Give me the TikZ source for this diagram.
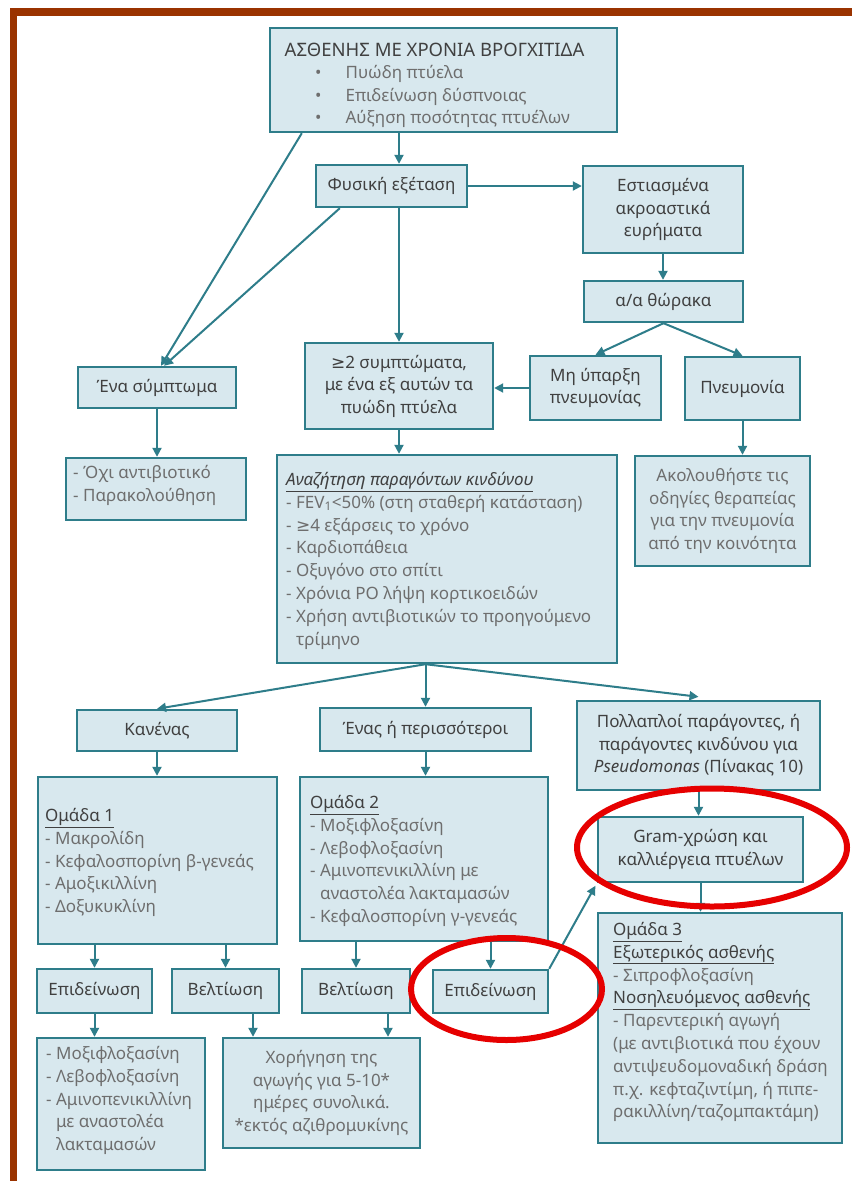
\documentclass[tikz,border=0pt]{standalone}
\usepackage{fontspec}
\setmainfont{Noto Sans}
\newfontfamily\symfont{DejaVu Sans}
\usetikzlibrary{arrows.meta,calc}
\definecolor{framebrown}{HTML}{9A3300}
\definecolor{boxfill}{HTML}{D8E8EE}
\definecolor{boxline}{HTML}{2E7D8A}
\definecolor{headtext}{HTML}{404040}
\definecolor{listtext}{HTML}{6E6E6E}
\definecolor{ringred}{HTML}{E60000}
\newcommand{\hd}[1]{\textcolor{headtext}{\underline{#1}}}
\newcommand{\gesym}{{\symfont ≥}}
\begin{document}
\begin{tikzpicture}[x=1pt,y=-1pt,
  box/.style={draw=boxline, fill=boxfill, line width=2.4pt, inner sep=0pt,
    align=center, text=headtext, font=\fontsize{17}{22.5}\selectfont},
  txt/.style={inner sep=0pt, align=left, text=listtext,
    font=\fontsize{17}{22.8}\selectfont, anchor=north west},
  arr/.style={draw=boxline, line width=2pt, -{Triangle[length=9pt,width=9pt]}},
  ring/.style={draw=ringred, line width=6pt}]
\useasboundingbox (0,0) rectangle (852,1181);
\fill[white] (0,0) rectangle (852,1181);
% page frame
\fill[framebrown] (10,8) rectangle (852,16);
\fill[framebrown] (10,8) rectangle (17,1181);

% patient box
\node[box, minimum width=347pt, minimum height=104pt] (top) at (443.5,80) {};
\node[txt, text=headtext, anchor=center, font=\fontsize{18.5}{22}\selectfont] (toptitle) at (434.5,50) {ΑΣΘΕΝΗΣ ΜΕ ΧΡΟΝΙΑ ΒΡΟΓΧΙΤΙΔΑ};
\node[txt] (topitems) at (315,65) {•\hspace{24pt}Πυώδη πτύελα\\•\hspace{24pt}Επιδείνωση δύσπνοιας\\•\hspace{24pt}Αύξηση ποσότητας πτυέλων};

% examination branch
\node[box, minimum width=151pt, minimum height=42pt] (fe) at (391.5,186) {Φυσική εξέταση};
\node[box, minimum width=160pt, minimum height=87pt] (foc) at (663,209.5) {Εστιασμένα\\ακροαστικά\\ευρήματα};
\node[box, minimum width=159pt, minimum height=41pt] (aa) at (663.5,301.5) {α/α θώρακα};
\node[box, minimum width=131pt, minimum height=64pt] (nop) at (595.5,388) {Μη ύπαρξη\\πνευμονίας};
\node[box, minimum width=115pt, minimum height=63pt] (pn) at (742.5,388.5) {Πνευμονία};
\node[box, minimum width=188pt, minimum height=86pt] (two) at (399,386) {\gesym2 συμπτώματα,\\με ένα εξ αυτών τα\\πυώδη πτύελα};
\node[box, minimum width=158pt, minimum height=41pt] (one) at (157,387.5) {Ένα σύμπτωμα};

\node[box, minimum width=180pt, minimum height=62pt] (no) at (156,489) {};
\node[txt] (not) at (73,465) {- Όχι αντιβιοτικό\\- Παρακολούθηση};

\node[box, minimum width=340pt, minimum height=208pt] (risk) at (447,559) {};
\node[txt] (riskt) at (286,472) {\hd{\itshape Αναζήτηση παραγόντων κινδύνου}\\
- FEV\textsubscript{1}<50\% (στη σταθερή κατάσταση)\\
- \gesym4 εξάρσεις το χρόνο\\
- Καρδιοπάθεια\\
- Οξυγόνο στο σπίτι\\
- Χρόνια PO λήψη κορτικοειδών\\
- Χρήση αντιβιοτικών το προηγούμενο\\
\phantom{- }τρίμηνο};

\node[box, text=listtext, minimum width=175pt, minimum height=110pt] (fol) at (722.5,511) {Ακολουθήστε τις\\οδηγίες θεραπείας\\για την πνευμονία\\από την κοινότητα};

% risk groups
\node[box, minimum width=160pt, minimum height=41pt] (none) at (157,730.5) {Κανένας};
\node[box, minimum width=211pt, minimum height=43pt] (some) at (425.5,729.5) {Ένας ή περισσότεροι};
\node[box, minimum width=243pt, minimum height=89pt] (many) at (698.5,745.5) {Πολλαπλοί παράγοντες, ή\\παράγοντες κινδύνου για\\\textit{Pseudomonas} (Πίνακας 10)};

\node[box, minimum width=239pt, minimum height=167pt] (g1) at (157.5,860.5) {};
\node[txt] (g1t) at (45,808) {\hd{Ομάδα 1}\\- Μακρολίδη\\- Κεφαλοσπορίνη β-γενεάς\\- Αμοξικιλλίνη\\- Δοξυκυκλίνη};

\node[box, minimum width=248pt, minimum height=164pt] (g2) at (424,859) {};
\node[txt] (g2t) at (310,795) {\hd{Ομάδα 2}\\- Μοξιφλοξασίνη\\- Λεβοφλοξασίνη\\- Αμινοπενικιλλίνη με\\\phantom{- }αναστολέα λακταμασών\\- Κεφαλοσπορίνη γ-γενεάς};

\node[box, minimum width=205pt, minimum height=65pt] (gram) at (700.5,849.5) {Gram-χρώση και\\καλλιέργεια πτυέλων};

\node[box, minimum width=244pt, minimum height=230pt] (g3) at (720,1028) {};
\node[txt] (g3t) at (613,922) {\hd{Ομάδα 3}\\\hd{Εξωτερικός ασθενής}\\- Σιπροφλοξασίνη\\\hd{Νοσηλευόμενος ασθενής}\\- Παρεντερική αγωγή\\(με αντιβιοτικά που έχουν\\αντιψευδομοναδική δράση\\π.χ. κεφταζιντίμη, ή πιπε-\\ρακιλλίνη/ταζομπακτάμη)};

% outcomes
\node[box, minimum width=115pt, minimum height=44pt] (wl) at (94.5,991) {Επιδείνωση};
\node[box, minimum width=107pt, minimum height=44pt] (b1) at (225.5,991) {Βελτίωση};
\node[box, minimum width=108pt, minimum height=44pt] (b2) at (356,991) {Βελτίωση};
\node[box, minimum width=115pt, minimum height=43pt] (wr) at (490.5,991.5) {Επιδείνωση};

\node[box, minimum width=168pt, minimum height=132pt] (ml) at (121,1104) {};
\node[txt] (mlt) at (46,1046) {- Μοξιφλοξασίνη\\- Λεβοφλοξασίνη\\- Αμινοπενικιλλίνη\\\phantom{- }με αναστολέα\\\phantom{- }λακταμασών};

\node[box, text=listtext, minimum width=197pt, minimum height=110pt] (give) at (321.5,1093) {Χορήγηση της\\αγωγής για 5-10*\\ημέρες συνολικά.\\*εκτός αζιθρομυκίνης};

% connectors
\draw[arr] (top.south -| two.north) -- (two.north |- fe.north);
\draw[arr] ($(top.south west)+(33,0)$) -- ($(one.north)+(4,0)$);
\draw[arr] ($(fe.south west)+(25,0)$) -- ($(one.north)+(7,0)$);
\draw[arr] (fe.south -| two.north) -- (two.north);
\draw[arr] (fe.east) -- (fe.east -| foc.west);
\draw[arr] (foc.south) -- (foc.south |- aa.north);
\draw[arr] (aa.south) -- (nop.north);
\draw[arr] (aa.south) -- (pn.north);
\draw[arr] (nop.west) -- (nop.west -| two.east);
\draw[arr] (one.south) -- (one.south |- no.north);
\draw[arr] (two.south) -- (two.south |- risk.north);
\draw[arr] (pn.south) -- (pn.south |- fol.north);
\coordinate (rs) at (risk.south -| some.north);
\draw[arr] (rs) -- (none.north);
\draw[arr] (rs) -- (some.north);
\draw[arr] (rs) -- ($(many.north)+(0,-3)$);
\draw[arr] (none.south) -- (none.south |- g1.north);
\draw[arr] (some.south) -- (some.south |- g2.north);
\draw[arr] (many.south) -- (many.south |- gram.north);
\draw[arr] (gram.south) -- (gram.south |- g3.north);
\draw[arr] (g1.south -| wl.north) -- (wl.north);
\draw[arr] (g1.south -| b1.north) -- (b1.north);
\draw[arr] (g2.south -| b2.north) -- (b2.north);
\draw[arr] (g2.south -| wr.north) -- (wr.north);
\draw[arr, shorten >=3pt] (wr.north east) -- (gram.south west);
\draw[arr] (wl.south) -- (wl.south |- ml.north);
\draw[arr] ([xshift=27.5pt]b1.south) -- ([xshift=27.5pt]b1.south |- give.north);
\draw[arr] ([xshift=32pt]b2.south) -- ([xshift=32pt]b2.south |- give.north);

% red rings
\draw[ring] (712,847.5) ellipse [x radius=135pt, y radius=59pt];
\draw[ring] (506.5,989) ellipse [x radius=95.5pt, y radius=51pt];
\end{tikzpicture}
\end{document}
